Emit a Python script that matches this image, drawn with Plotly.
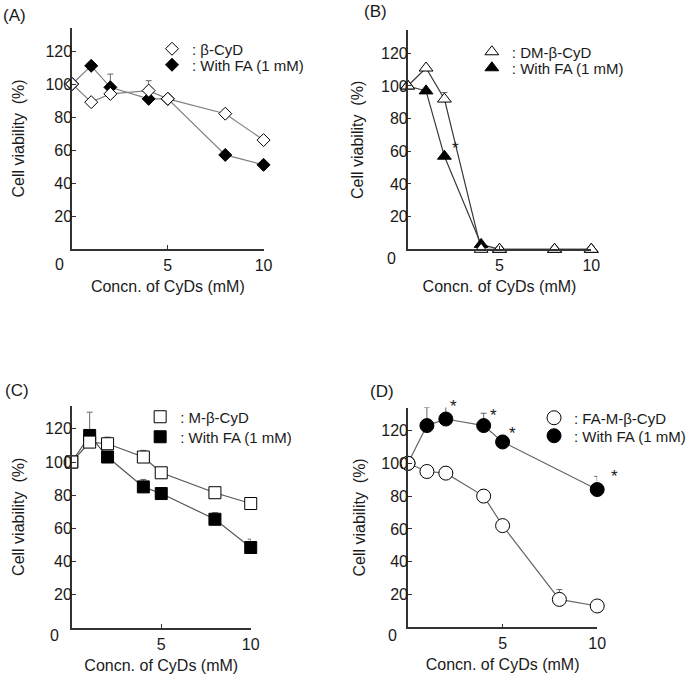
import plotly.graph_objects as go

W, H = 699, 680
FONT = "Liberation Sans, Arial, sans-serif"
TXT = "#1a1a1a"

conc = [0, 1, 2, 4, 5, 8, 10]

# Panel A: beta-CyD
a_open = [100, 89, 94, 96, 91, 82, 66]
a_open_err = [0, 0, 0, 6, 0, 0, 0]
a_fill = [100, 111, 98, 91, 91, 57, 51]
a_fill_err = [0, 0, 8, 0, 0, 0, 0]

# Panel B: DM-beta-CyD
b_open = [100, 111, 92, 0, 0, 0, 0]
b_open_err = [0, 0, 4, 0, 0, 0, 0]
b_fill = [100, 97, 57, 3, 0, 0, 0]
b_fill_err = [0, 0, 0, 0, 0, 0, 0]

# Panel C: M-beta-CyD
c_open = [100, 112, 111, 103, 93.5, 81.5, 75]
c_open_err = [0, 0, 4, 4, 0, 0, 0]
c_fill = [100, 116, 103, 85, 81, 65.5, 48.5]
c_fill_err = [0, 14, 0, 4.5, 0, 4, 5]

# Panel D: FA-M-beta-CyD
d_open = [100, 95, 94, 80, 62, 17, 13]
d_open_err = [0, 3, 4, 4, 0, 6, 0]
d_fill_x = [0, 1, 2, 4, 5, 10]
d_fill = [100, 123, 127, 123, 113, 84]
d_fill_err = [0, 11, 8, 7.5, 4, 8]

# significance marks: attached to data point (x, y)
b_star = [(2, 57)]
d_star = [(2, 127), (4, 123), (5, 113), (10, 84)]
b_star_shift = [(11, 8)]
d_star_shift = [(8, 13), (10, 10), (10, 8), (17, 13)]

legend_names = {
    "A": (": β-CyD", ": With FA (1 mM)"),
    "B": (": DM-β-CyD", ": With FA (1 mM)"),
    "C": (": M-β-CyD", ": With FA (1 mM)"),
    "D": (": FA-M-β-CyD", ": With FA (1 mM)"),
}

xt_vals = [5, 10]
yt_vals = [20, 40, 60, 80, 100, 120]
YMAX = 134

# panel pixel geometry (picture pixels): x0, x10, y0, px per unit
geo = {
    "A": (73, 267, 249, 1.65),
    "B": (413, 599, 249.3, 1.633),
    "C": (72.7, 254, 628, 1.66),
    "D": (413.3, 605, 627.3, 1.64),
}
ytitle_standoff = {"A": 17, "B": 13, "C": 16, "D": 12}

fig = go.Figure()

def px_x(p):
    return p / W

def px_y(p):
    return 1 - p / H

panels = ["A", "B", "C", "D"]
symbols = {"A": "diamond", "B": "triangle-up", "C": "square", "D": "circle"}
sizes = {"A": 10, "B": 12, "C": 12, "D": 14}
linecol = {"A": "#808080", "B": "#3a3a3a", "C": "#555555", "D": "#666666"}
data = {
    "A": (conc, a_open, a_open_err, conc, a_fill, a_fill_err),
    "B": (conc, b_open, b_open_err, conc, b_fill, b_fill_err),
    "C": (conc, c_open, c_open_err, conc, c_fill, c_fill_err),
    "D": (conc, d_open, d_open_err, d_fill_x, d_fill, d_fill_err),
}
# legend rows: symbol x, (row1 y, row2 y)
legend_pos = {"A": (171, (48, 64)), "B": (495, (51, 67)),
              "C": (159, (416, 436)), "D": (558, (417, 435))}

layout = dict(
    width=W, height=H, margin=dict(l=0, r=0, t=0, b=0),
    paper_bgcolor="white", plot_bgcolor="white",
    font=dict(family=FONT, color=TXT, size=15),
    showlegend=True,
)

annotations = []
lg_n = 0
for i, p in enumerate(panels):
    idx = "" if i == 0 else str(i + 1)
    xa, ya = "x" + idx, "y" + idx
    x0, x10, y0, ys = geo[p]
    ytop = y0 - YMAX * ys
    ox, oy, oerr, fx, fy, ferr = data[p]
    lx, (r1, r2) = legend_pos[p]
    lg_open = "legend" + ("" if lg_n == 0 else str(lg_n + 1))
    lg_fill = "legend" + str(lg_n + 2)
    lg_n += 2
    for xs, yv in ((fx, fy), (ox, oy)):
        fig.add_trace(go.Scatter(
            x=xs, y=yv, mode="lines", xaxis=xa, yaxis=ya, showlegend=False,
            line=dict(color=linecol[p], width=1.2), hoverinfo="skip",
            cliponaxis=False,
        ))
    fig.add_trace(go.Scatter(
        x=fx, y=fy, mode="markers", xaxis=xa, yaxis=ya,
        name=legend_names[p][1], legend=lg_fill,
        marker=dict(symbol=symbols[p], size=sizes[p], color="black",
                    line=dict(color="black", width=1)),
        error_y=dict(type="data", array=ferr, arrayminus=[0] * len(ferr),
                     symmetric=False, color="#666", thickness=1, width=3),
        cliponaxis=False,
    ))
    fig.add_trace(go.Scatter(
        x=ox, y=oy, mode="markers", xaxis=xa, yaxis=ya,
        name=legend_names[p][0], legend=lg_open,
        marker=dict(symbol=symbols[p], size=sizes[p], color="white",
                    line=dict(color="black", width=1)),
        error_y=dict(type="data", array=oerr, arrayminus=[0] * len(oerr),
                     symmetric=False, color="#666", thickness=1, width=3),
        cliponaxis=False,
    ))
    axcommon = dict(showline=True, linecolor="#333", linewidth=1.5,
                    ticks="inside", ticklen=4, tickcolor="#333", tickwidth=1,
                    showgrid=False, zeroline=False,
                    tickfont=dict(family=FONT, size=16, color=TXT))
    layout["xaxis" + idx] = dict(
        domain=[px_x(x0), px_x(x10)], range=[0, 10], anchor=ya,
        tickvals=xt_vals, ticklabelstandoff=1,
        title=dict(text="Concn. of CyDs (mM)", standoff=8,
                   font=dict(family=FONT, size=16, color=TXT)),
        **axcommon)
    layout["yaxis" + idx] = dict(
        domain=[px_y(y0), px_y(ytop)], range=[0, YMAX], anchor=xa,
        tickvals=yt_vals, ticklabelstandoff=-5,
        title=dict(text="Cell viability  (%)", standoff=ytitle_standoff[p],
                   font=dict(family=FONT, size=16, color=TXT)),
        **axcommon)
    for lgname, ry in ((lg_open, r1), (lg_fill, r2)):
        layout[lgname] = dict(
            x=px_x(lx - 17), y=px_y(ry - 15.5), xanchor="left", yanchor="top",
            bgcolor="rgba(0,0,0,0)", borderwidth=0,
            font=dict(family=FONT, size=15, color=TXT),
            itemwidth=30,
        )

# panel labels
for txt, (px, py) in {"(A)": (15, 15), "(B)": (380, 11), "(C)": (17, 391), "(D)": (387, 392)}.items():
    annotations.append(dict(text=txt, x=px_x(px), y=px_y(py), xref="paper", yref="paper",
                            xanchor="center", yanchor="middle",
                            showarrow=False, font=dict(family=FONT, size=17, color=TXT)))
# shared origin labels
for (px, py) in [(60, 265), (397, 258), (55, 635), (398, 635)]:
    annotations.append(dict(text="0", x=px_x(px), y=px_y(py), xref="paper", yref="paper",
                            xanchor="center", yanchor="middle",
                            showarrow=False, font=dict(family=FONT, size=16, color=TXT)))
# significance asterisks
for (sx, sy), (dx, dy) in zip(b_star, b_star_shift):
    annotations.append(dict(text="*", x=sx, y=sy, xref="x2", yref="y2", showarrow=False,
                            xanchor="center", yanchor="middle", xshift=dx, yshift=dy,
                            font=dict(family=FONT, size=17, color=TXT)))
for (sx, sy), (dx, dy) in zip(d_star, d_star_shift):
    annotations.append(dict(text="*", x=sx, y=sy, xref="x4", yref="y4", showarrow=False,
                            xanchor="center", yanchor="middle", xshift=dx, yshift=dy,
                            font=dict(family=FONT, size=17, color=TXT)))

layout["annotations"] = annotations
fig.update_layout(**layout)
fig.write_html("out.html", config={"displayModeBar": False},
               post_script="document.body.style.margin='0';document.body.style.padding='0';")
